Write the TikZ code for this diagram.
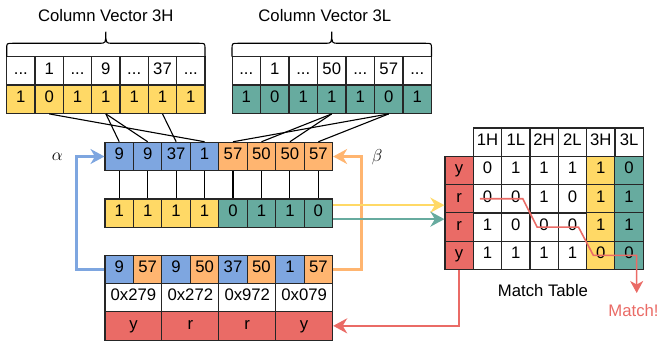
\documentclass[tikz,border=0pt]{standalone}
\usepackage{fontspec}
\setmainfont{Liberation Sans}
\usetikzlibrary{arrows.meta,calc}
\definecolor{cyel}{HTML}{FFD966}
\definecolor{cgrn}{HTML}{67AB9F}
\definecolor{cblu}{HTML}{7EA6E0}
\definecolor{corg}{HTML}{FFB570}
\definecolor{cred}{HTML}{EA6B66}
\newcommand\dotsx{...}
\begin{document}
\begin{tikzpicture}[x=1pt,y=-1pt,font=\fontsize{16.7}{20}\selectfont,
  cell/.style={draw=black!85,line width=1.1pt,minimum width=28.4pt,minimum height=28.4pt,inner sep=0pt,text height=0.905em,text depth=0.212em},
  wide/.style={cell,minimum width=56.9pt},
  conn/.style={draw=black,line width=1.1pt},
  tip/.style={-{Stealth[length=14pt,width=15pt,inset=4.5pt]}},
  flow/.style={line width=2.6pt,tip},
  brace/.style={draw=black,line width=1.1pt},
  lbl/.style={inner sep=0pt,anchor=base}]
\useasboundingbox (0,0) rectangle (660,345);
% top vectors
\foreach \t [count=\i] in {\dotsx,1,\dotsx,9,\dotsx,37,\dotsx}
  \node[cell] (h\i) at ({6.7+28.33*(\i-0.5)},70.85) {\t};
\foreach \t [count=\i] in {1,0,1,1,1,1,1}
  \node[cell,fill=cyel] (hb\i) at ({6.7+28.33*(\i-0.5)},99.15) {\t};
\foreach \t [count=\i] in {\dotsx,1,\dotsx,50,\dotsx,57,\dotsx}
  \node[cell] (l\i) at ({232+28.5*(\i-0.5)},70.85) {\t};
\foreach \t [count=\i] in {1,0,1,1,1,0,1}
  \node[cell,fill=cgrn] (lb\i) at ({232+28.5*(\i-0.5)},99.15) {\t};
% labels and braces
\node[lbl] (t3h) at (105.8,21.7) {Column Vector 3H};
\node[lbl] (t3l) at (324.8,21.7) {Column Vector 3L};
\draw[brace] (6.7,56.7) -- (6.7,49) .. controls (6.7,43.3) .. (12.4,43.3) -- (99.3,43.3) .. controls (105.8,43.3) .. (105.8,31.7) .. controls (105.8,43.3) .. (112.3,43.3) -- (199.3,43.3) .. controls (205,43.3) .. (205,49) -- (205,56.7);
\draw[brace] (232,56.7) -- (232,49) .. controls (232,43.3) .. (237.7,43.3) -- (325.2,43.3) .. controls (331.7,43.3) .. (331.7,31.7) .. controls (331.7,43.3) .. (338.2,43.3) -- (425.8,43.3) .. controls (431.5,43.3) .. (431.5,49) -- (431.5,56.7);
% middle rows
\foreach \t [count=\i] in {9,9,37,1}
  \node[cell,fill=cblu] (m\i) at ({105+28.45*(\i-0.5)},156.5) {\t};
\foreach \t [count=\j] in {57,50,50,57} {
  \pgfmathtruncatemacro\i{\j+4}
  \node[cell,fill=corg] (m\i) at ({105+28.45*(\i-0.5)},156.5) {\t};}
\foreach \t [count=\i] in {1,1,1,1}
  \node[cell,fill=cyel] (s\i) at ({105+28.45*(\i-0.5)},213.15) {\t};
\foreach \t [count=\j] in {0,1,1,0} {
  \pgfmathtruncatemacro\i{\j+4}
  \node[cell,fill=cgrn] (s\i) at ({105+28.45*(\i-0.5)},213.15) {\t};}
\foreach \i in {1,...,8} \draw[conn] (m\i.south) -- (s\i.north);
% gather lines
\draw[conn] (hb4.south) -- (m1.north);
\draw[conn] (hb4.south) -- (m2.north);
\draw[conn] (hb6.south) -- (m3.north);
\draw[conn] (hb2.south) -- (m4.north);
\draw[conn] (lb6.south) -- (m5.north);
\draw[conn] (lb4.south) -- (m6.north);
\draw[conn] (lb4.south) -- (m7.north);
\draw[conn] (lb6.south) -- (m8.north);
% bottom group
\foreach \t/\c [count=\i] in {9/cblu,57/corg,9/cblu,50/corg,37/cblu,50/corg,1/cblu,57/corg}
  \node[cell,minimum height=27.6pt,fill=\c] (p\i) at ({105+28.45*(\i-0.5)},269.5) {\t};
\foreach \t [count=\i] in {0x279,0x272,0x972,0x079}
  \node[wide] (q\i) at ({105+56.9*(\i-0.5)},297.5) {\t};
\foreach \t [count=\i] in {y,r,r,y}
  \node[wide,fill=cred] (o\i) at ({105+56.9*(\i-0.5)},325.85) {\t};
\node[inner sep=0pt] (alph) at (57.3,156.7) {\fontsize{18}{20}\selectfont$\alpha$};
\node[inner sep=0pt] (bet) at (377,156.7) {\fontsize{18}{20}\selectfont$\beta$};
\draw[flow,cblu] (p1.west) -- ++(-27.7,0) |- (m1.west);
\draw[flow,corg] (p8.east) -- ++(28.4,0) |- (m8.east);
% match table
\foreach \t [count=\c] in {1H,1L,2H,2L,3H,3L}
  \node[cell] (hd\c) at ({473.3+28.33*(\c-0.5)},142.15) {\t};
\foreach \rl/\va/\vb/\vc/\vd/\ve/\vf [count=\r] in {y/0/1/1/1/1/0,r/0/0/1/0/1/1,r/1/0/0/0/1/1,y/1/1/1/1/0/0} {
  \node[cell,fill=cred] (tr\r) at (459.15,{156.3+28.3*(\r-0.5)}) {\rl};
  \node[cell] (t\r1) at ({473.3+28.33*0.5},{156.3+28.3*(\r-0.5)}) {\va};
  \node[cell] (t\r2) at ({473.3+28.33*1.5},{156.3+28.3*(\r-0.5)}) {\vb};
  \node[cell] (t\r3) at ({473.3+28.33*2.5},{156.3+28.3*(\r-0.5)}) {\vc};
  \node[cell] (t\r4) at ({473.3+28.33*3.5},{156.3+28.3*(\r-0.5)}) {\vd};
  \node[cell,fill=cyel] (t\r5) at ({473.3+28.33*4.5},{156.3+28.3*(\r-0.5)}) {\ve};
  \node[cell,fill=cgrn] (t\r6) at ({473.3+28.33*5.5},{156.3+28.3*(\r-0.5)}) {\vf};
}
\node[lbl] (mtab) at (543,296) {Match Table};
\node[lbl,text=cred] (mlab) at (633.5,316.5) {Match!};
% bit rows into table
\coordinate (ya) at ([yshift=8pt]s8.east);
\coordinate (ga) at ([yshift=-6pt]s8.east);
\draw[flow,cyel] (ya) -- (ya -| tr2.west);
\draw[flow,cgrn] (ga) -- (ga -| tr2.west);
% match path
\coordinate (mend) at (636.7,293);
\draw[cred,line width=1.6pt,-{Stealth[length=12pt,width=13pt,inset=3.5pt]}]
  ($(t21.center)+(-7.5,0)$) -- ($(t22.center)+(7,0)$) -- ($(t33.west)+(7.7,0)$)
  -- ($(t34.center)+(6,0)$) -- ($(t45.west)+(7.3,0)$) -- ($(t46.center)+(7.5,0)$)
  -- (mend);
% result back
\draw[flow,cred] (tr4.south) |- (o4.east);
\end{tikzpicture}
\end{document}
